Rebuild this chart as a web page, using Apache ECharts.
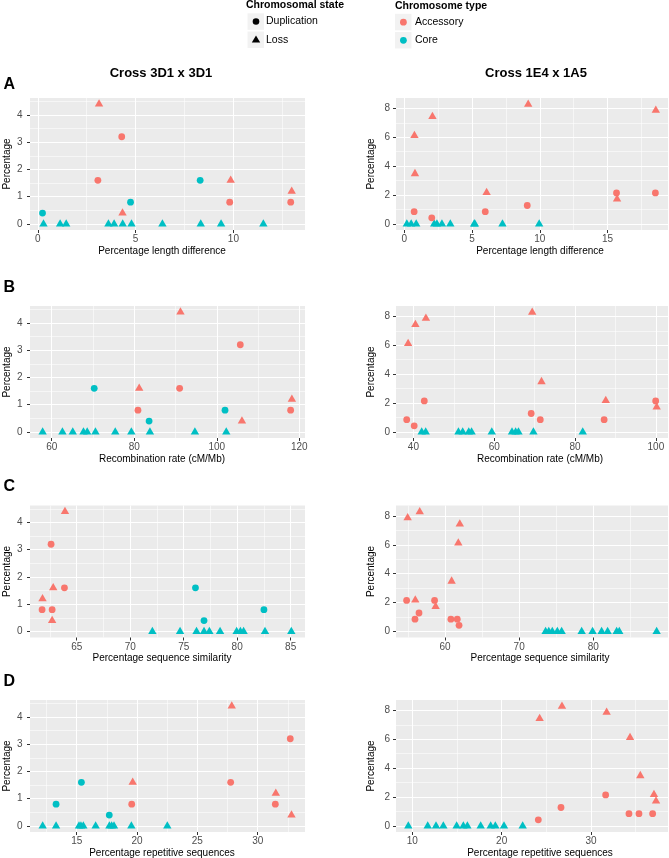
<!DOCTYPE html>
<html><head><meta charset="utf-8">
<script src="https://cdn.jsdelivr.net/npm/echarts@6/dist/echarts.min.js"></script>
<style>html,body{margin:0;padding:0;background:#fff}#c{width:669px;height:858px}</style>
</head><body><div id="c"></div>
<script>
// ---------- categories & labels ----------
const states = ['Duplication', 'Loss'];
const chromTypes = ['Accessory', 'Core'];
const crosses = ['Cross 3D1 x 3D1', 'Cross 1E4 x 1A5'];
const rowLabels = ['A', 'B', 'C', 'D'];
const xTitles = ['Percentage length difference', 'Recombination rate (cM/Mb)',
                 'Percentage sequence similarity', 'Percentage repetitive sequences'];
const yTitle = 'Percentage';

// ---------- data: [x, percentage, state index, chromosome type index] ----------
const lenDiff3D1 = [
  [3.13,4.4,1,0],[9.86,1.6,1,0],[12.98,1.2,1,0],[4.33,0.4,1,0],
  [4.29,3.2,0,0],[3.07,1.6,0,0],[9.81,0.8,0,0],[12.93,0.8,0,0],
  [8.3,1.6,0,1],[4.74,0.8,0,1],[0.24,0.4,0,1],
  [0.29,0,1,1],[1.14,0,1,1],[1.45,0,1,1],[3.61,0,1,1],[3.9,0,1,1],[4.34,0,1,1],
  [4.79,0,1,1],[6.37,0,1,1],[8.33,0,1,1],[9.37,0,1,1],[11.53,0,1,1]
];
const recomb3D1 = [
  [91.2,4.4,1,0],[81.2,1.6,1,0],[118.2,1.2,1,0],[106.1,0.4,1,0],
  [105.7,3.2,0,0],[91.0,1.6,0,0],[80.9,0.8,0,0],[117.9,0.8,0,0],
  [70.3,1.6,0,1],[102.0,0.8,0,1],[83.6,0.4,0,1],
  [57.8,0,1,1],[62.6,0,1,1],[65.1,0,1,1],[67.7,0,1,1],[68.6,0,1,1],[70.6,0,1,1],
  [75.4,0,1,1],[79.3,0,1,1],[83.8,0,1,1],[94.7,0,1,1],[102.3,0,1,1]
];
const seqSim3D1 = [
  [63.9,4.4,1,0],[62.8,1.6,1,0],[61.8,1.2,1,0],[62.7,0.4,1,0],
  [62.6,3.2,0,0],[63.85,1.6,0,0],[61.76,0.8,0,0],[62.7,0.8,0,0],
  [76.1,1.6,0,1],[82.5,0.8,0,1],[76.9,0.4,0,1],
  [72.07,0,1,1],[74.66,0,1,1],[76.2,0,1,1],[76.9,0,1,1],[77.4,0,1,1],[78.4,0,1,1],
  [79.95,0,1,1],[80.3,0,1,1],[80.6,0,1,1],[82.6,0,1,1],[85.06,0,1,1]
];
const repSeq3D1 = [
  [27.85,4.4,1,0],[19.64,1.6,1,0],[31.5,1.2,1,0],[32.8,0.4,1,0],
  [32.7,3.2,0,0],[27.76,1.6,0,0],[19.56,0.8,0,0],[31.46,0.8,0,0],
  [15.39,1.6,0,1],[13.29,0.8,0,1],[17.7,0.4,0,1],
  [12.18,0,1,1],[13.29,0,1,1],[15.19,0,1,1],[15.35,0,1,1],[15.55,0,1,1],[16.57,0,1,1],
  [17.71,0,1,1],[17.9,0,1,1],[18.09,0,1,1],[19.53,0,1,1],[22.51,0,1,1]
];
const lenDiff1E4 = [
  [9.14,8.28,1,0],[18.56,7.86,1,0],[2.07,7.43,1,0],[0.74,6.11,1,0],[0.78,3.48,1,0],[6.07,2.17,1,0],[15.7,1.72,1,0],
  [15.66,2.15,0,0],[18.53,2.15,0,0],[9.07,1.28,0,0],[0.72,0.85,0,0],[5.97,0.85,0,0],[2.02,0.43,0,0],
  [0.18,0,1,1],[0.5,0,1,1],[0.87,0,1,1],[2.2,0,1,1],[2.4,0,1,1],[2.77,0,1,1],
  [3.39,0,1,1],[5.15,0,1,1],[5.2,0,1,1],[7.24,0,1,1],[9.95,0,1,1]
];
const recomb1E4 = [
  [69.4,8.28,1,0],[43.1,7.86,1,0],[40.5,7.43,1,0],[38.7,6.11,1,0],[71.7,3.48,1,0],[87.6,2.17,1,0],[100.2,1.72,1,0],
  [99.95,2.15,0,0],[42.7,2.15,0,0],[69.15,1.28,0,0],[38.35,0.85,0,0],[71.4,0.85,0,0],[87.2,0.85,0,0],[40.2,0.43,0,0],
  [42.06,0,1,1],[43.05,0,1,1],[51.15,0,1,1],[52.2,0,1,1],[53.7,0,1,1],[54.4,0,1,1],
  [59.4,0,1,1],[64.4,0,1,1],[65.3,0,1,1],[66.0,0,1,1],[69.7,0,1,1],[81.9,0,1,1]
];
const seqSim1E4 = [
  [56.6,8.28,1,0],[54.97,7.86,1,0],[62.0,7.43,1,0],[61.8,6.11,1,0],[60.9,3.48,1,0],[56.0,2.17,1,0],[58.74,1.72,1,0],
  [54.83,2.15,0,0],[58.6,2.15,0,0],[56.5,1.28,0,0],[55.96,0.85,0,0],[60.8,0.85,0,0],[61.66,0.85,0,0],[61.9,0.43,0,0],
  [73.57,0,1,1],[74.0,0,1,1],[74.47,0,1,1],[75.15,0,1,1],[75.73,0,1,1],[78.43,0,1,1],
  [79.9,0,1,1],[81.12,0,1,1],[81.93,0,1,1],[83.15,0,1,1],[83.5,0,1,1],[88.54,0,1,1]
];
const repSeq1E4 = [
  [26.75,8.28,1,0],[31.75,7.86,1,0],[24.25,7.43,1,0],[34.37,6.11,1,0],[35.52,3.48,1,0],[37.05,2.17,1,0],[37.28,1.72,1,0],
  [31.64,2.15,0,0],[26.64,1.28,0,0],[34.25,0.85,0,0],[35.37,0.85,0,0],[36.9,0.85,0,0],[24.1,0.43,0,0],
  [9.55,0,1,1],[11.72,0,1,1],[12.65,0,1,1],[13.47,0,1,1],[14.96,0,1,1],[15.71,0,1,1],
  [16.16,0,1,1],[17.65,0,1,1],[18.77,0,1,1],[19.29,0,1,1],[20.26,0,1,1],[22.35,0,1,1]
];

// ---------- tick labels (major) and minor grid breaks ----------
const yBreaks3D1 = [0,1,2,3,4];           const yMinor3D1 = [0.5,1.5,2.5,3.5,4.5];
const yBreaks1E4 = [0,2,4,6,8];           const yMinor1E4 = [1,3,5,7];
const xBreaksLen3D1 = [0,5,10];           const xMinorLen3D1 = [2.5,7.5,12.5];
const xBreaksLen1E4 = [0,5,10,15];        const xMinorLen1E4 = [2.5,7.5,12.5,17.5];
const xBreaksRec3D1 = [60,80,100,120];    const xMinorRec3D1 = [70,90,110];
const xBreaksRec1E4 = [40,60,80,100];     const xMinorRec1E4 = [50,70,90];
const xBreaksSim3D1 = [65,70,75,80,85];   const xMinorSim3D1 = [62.5,67.5,72.5,77.5,82.5];
const xBreaksSim1E4 = [60,70,80];         const xMinorSim1E4 = [55,65,75,85];
const xBreaksRep3D1 = [15,20,25,30];      const xMinorRep3D1 = [12.5,17.5,22.5,27.5,32.5];
const xBreaksRep1E4 = [10,20,30];         const xMinorRep1E4 = [15,25,35];

// ---------- layout / styling ----------
const F = '"Liberation Sans", Arial, Helvetica, sans-serif';
const COLORS = ['#F8766D', '#00BFC4'];
const cols = [
  {left:30, width:275, yr:[-0.22,4.62], yb:yBreaks3D1, ym:yMinor3D1, labMargin:7.5, nameGap:18, xNamePad:[0,11,0,0]},
  {left:396, width:272, yr:[-0.415,8.715], yb:yBreaks1E4, ym:yMinor1E4, labMargin:6, nameGap:20, xNamePad:[0,0,0,16]}
];
const rowTops = [98, 306, 505.5, 700];
const PH = 132;
const panels = [
  {row:0,col:0,data:lenDiff3D1,xr:[-0.40,13.66],xb:xBreaksLen3D1,xm:xMinorLen3D1},
  {row:0,col:1,data:lenDiff1E4,xr:[-0.62,19.46],xb:xBreaksLen1E4,xm:xMinorLen1E4},
  {row:1,col:0,data:recomb3D1,xr:[54.74,121.38],xb:xBreaksRec3D1,xm:xMinorRec3D1},
  {row:1,col:1,data:recomb1E4,xr:[35.7,103.0],xb:xBreaksRec1E4,xm:xMinorRec1E4},
  {row:2,col:0,data:seqSim3D1,xr:[60.63,86.34],xb:xBreaksSim3D1,xm:xMinorSim3D1},
  {row:2,col:1,data:seqSim1E4,xr:[53.4,90.07],xb:xBreaksSim1E4,xm:xMinorSim1E4},
  {row:3,col:0,data:repSeq3D1,xr:[11.13,33.92],xb:xBreaksRep3D1,xm:xMinorRep3D1},
  {row:3,col:1,data:repSeq1E4,xr:[8.17,38.62],xb:xBreaksRep1E4,xm:xMinorRep1E4}
];

const grid = [], xAxis = [], yAxis = [], series = [];
panels.forEach((p, i) => {
  const c = cols[p.col];
  grid.push({left:c.left, top:rowTops[p.row], width:c.width, height:PH, show:true,
             backgroundColor:'#EBEBEB', borderWidth:0, containLabel:false, outerBoundsMode:'none'});
  // major x
  xAxis.push({type:'value', gridIndex:i, min:p.xr[0], max:p.xr[1], position:'bottom',
    axisLine:{show:false, onZero:false},
    axisTick:{show:true, length:3, lineStyle:{color:'#333333', width:1}, customValues:p.xb},
    axisLabel:{customValues:p.xb, color:'#4D4D4D', fontSize:10, fontFamily:F, margin:4.5},
    splitLine:{show:true, lineStyle:{color:'#FFFFFF', width:1.1}},
    name:xTitles[p.row], nameLocation:'middle', nameGap:16,
    nameTextStyle:{color:'#000', fontSize:10, fontFamily:F, padding:c.xNamePad}, z:1});
  // minor x
  xAxis.push({type:'value', gridIndex:i, min:p.xr[0], max:p.xr[1], position:'bottom',
    axisLine:{show:false, onZero:false}, axisTick:{show:false, customValues:p.xm},
    axisLabel:{show:false, customValues:p.xm},
    splitLine:{show:true, lineStyle:{color:'#FFFFFF', width:0.55}}, z:0});
  // major y
  yAxis.push({type:'value', gridIndex:i, min:c.yr[0], max:c.yr[1], position:'left',
    axisLine:{show:false, onZero:false},
    axisTick:{show:true, length:3, lineStyle:{color:'#333333', width:1}, customValues:c.yb},
    axisLabel:{customValues:c.yb, color:'#4D4D4D', fontSize:10, fontFamily:F, margin:c.labMargin},
    splitLine:{show:true, lineStyle:{color:'#FFFFFF', width:1.1}},
    name:yTitle, nameLocation:'middle', nameGap:c.nameGap,
    nameTextStyle:{color:'#000', fontSize:10, fontFamily:F}, z:1});
  // minor y
  yAxis.push({type:'value', gridIndex:i, min:c.yr[0], max:c.yr[1], position:'left',
    axisLine:{show:false, onZero:false}, axisTick:{show:false, customValues:c.ym},
    axisLabel:{show:false, customValues:c.ym},
    splitLine:{show:true, lineStyle:{color:'#FFFFFF', width:0.55}}, z:0});

  [1, 0].forEach(t => {        // core first, accessory on top
    [0, 1].forEach(s => {
      const pts = p.data.filter(r => r[2] === s && r[3] === t).map(r => [r[0], r[1]]);
      series.push({type:'scatter', xAxisIndex:2*i, yAxisIndex:2*i,
        name: chromTypes[t] + ' ' + states[s],
        data: pts,
        symbol: s === 0 ? 'circle' : 'triangle',
        symbolSize: s === 0 ? 6.8 : [8.4, 7.3],
        symbolOffset: s === 0 ? [0,0] : [0,-1.2],
        itemStyle:{color:COLORS[t], opacity:1},
        emphasis:{disabled:true}, silent:true, clip:false, z:3});
    });
  });
});

// ---------- titles, row letters, legend (text kept as text) ----------
const graphic = [];
const txt = (x, y, text, font, align, fill) => ({type:'text', x, y, silent:true,
  style:{text, font, fill: fill || '#000', align, verticalAlign:'middle',
         textAlign:align, textVerticalAlign:'middle'}});
graphic.push(txt(161, 73, crosses[0], 'bold 13px ' + F, 'center'));
graphic.push(txt(536, 73, crosses[1], 'bold 13px ' + F, 'center'));
const rowLabelY = [84.5, 287.5, 487, 682];
rowLabels.forEach((l, i) => graphic.push(txt(3.5, rowLabelY[i], l, 'bold 16px ' + F, 'left')));

// legend: chromosomal state
graphic.push(txt(246, 5.5, 'Chromosomal state', 'bold 10.5px ' + F, 'left'));
graphic.push({type:'rect', silent:true, shape:{x:247.5, y:13.3, width:16.5, height:16.5}, style:{fill:'#F2F2F2'}});
graphic.push({type:'rect', silent:true, shape:{x:247.5, y:31.5, width:16.5, height:16.5}, style:{fill:'#F2F2F2'}});
graphic.push({type:'circle', silent:true, shape:{cx:256, cy:21.5, r:3.3}, style:{fill:'#000'}});
graphic.push({type:'polygon', silent:true, shape:{points:[[256,35.4],[260.2,42.6],[251.8,42.6]]}, style:{fill:'#000'}});
graphic.push(txt(266, 21.5, states[0], '10.5px ' + F, 'left'));
graphic.push(txt(266, 39.7, states[1], '10.5px ' + F, 'left'));
// legend: chromosome type
graphic.push(txt(395, 6, 'Chromosome type', 'bold 10.5px ' + F, 'left'));
graphic.push({type:'rect', silent:true, shape:{x:395, y:13.8, width:16.5, height:16.5}, style:{fill:'#F2F2F2'}});
graphic.push({type:'rect', silent:true, shape:{x:395, y:32, width:16.5, height:16.5}, style:{fill:'#F2F2F2'}});
graphic.push({type:'circle', silent:true, shape:{cx:403.4, cy:22.2, r:3.4}, style:{fill:COLORS[0]}});
graphic.push({type:'circle', silent:true, shape:{cx:403.4, cy:40.3, r:3.4}, style:{fill:COLORS[1]}});
graphic.push(txt(415, 22.2, chromTypes[0], '10.5px ' + F, 'left'));
graphic.push(txt(415, 40.3, chromTypes[1], '10.5px ' + F, 'left'));

const chart = echarts.init(document.getElementById('c'), null, {renderer:'canvas'});
chart.setOption({animation:false, backgroundColor:'#FFFFFF',
  textStyle:{fontFamily:F}, grid, xAxis, yAxis, series, graphic});
</script></body></html>
